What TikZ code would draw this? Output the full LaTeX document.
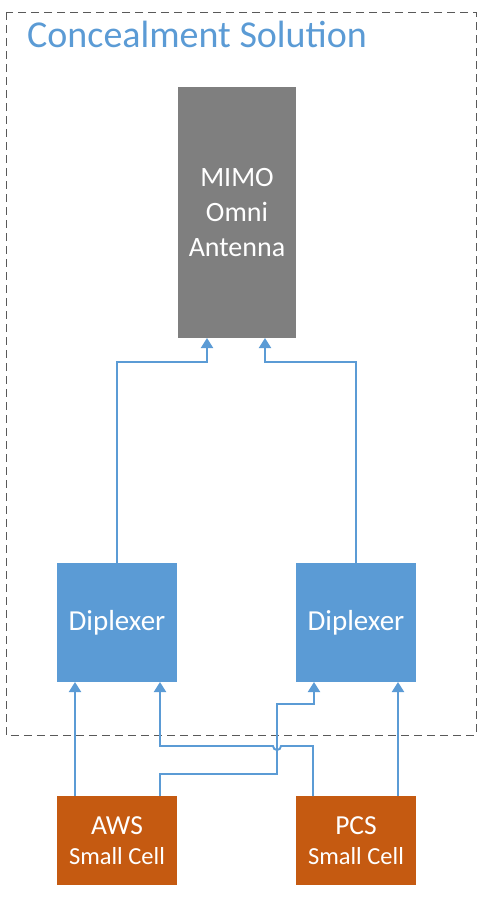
\documentclass[tikz,border=0pt]{standalone}
\usepackage{fontspec}
\setmainfont{Carlito}
\usetikzlibrary{arrows.meta,calc}
\definecolor{cblue}{HTML}{5B9BD5}
\definecolor{corange}{HTML}{C55A11}
\definecolor{cgray}{HTML}{7F7F7F}
\definecolor{cdash}{HTML}{595959}
\begin{document}
\begin{tikzpicture}[x=1pt,y=-1pt,
  blk/.style={inner sep=0pt, outer sep=0pt, text=white, align=center},
  antbox/.style={blk, fill=cgray, minimum width=118pt, minimum height=251pt, font=\fontsize{28}{35}\selectfont},
  dipbox/.style={blk, fill=cblue, minimum width=120pt, minimum height=119pt, font=\fontsize{29}{32}\selectfont},
  cellbox/.style={blk, fill=corange, minimum width=120pt, minimum height=89pt, font=\fontsize{24.5}{30}\selectfont},
  conn/.style={draw=cblue, line width=1.9pt, -{Triangle[width=12pt,length=10pt]}},
  frame/.style={draw=cdash, line width=0.9pt, dash pattern=on 8pt off 5pt}
]
\useasboundingbox (0,0) rectangle (483,897);
\draw[frame] (6,12) rectangle (476,735);
\node[anchor=base west, text=cblue, inner sep=0pt, font=\fontsize{38}{42}\selectfont] (title) at (27,47) {Concealment Solution};

\node[antbox] (ant) at (237,212.5) {MIMO\\Omni\\Antenna};
\node[dipbox] (dl) at (117,622.5) {Diplexer};
\node[dipbox] (dr) at (356,622.5) {Diplexer};
\node[cellbox] (aws) at (117,840.5) {{\fontsize{27.5}{30}\selectfont AWS}\\Small Cell};
\node[cellbox] (pcs) at (356,840.5) {{\fontsize{27.5}{30}\selectfont PCS}\\Small Cell};

% diplexers to antenna
\draw[conn] (dl.north) -- (dl.north |- 0,362) -| ([xshift=-30pt]ant.south);
\draw[conn] (dr.north) -- (dr.north |- 0,362) -| ([xshift=28pt]ant.south);

% cells to diplexers
\draw[conn] ([xshift=-42pt]aws.north) -- ([xshift=-42pt]dl.south);
\draw[conn] ([xshift=42pt]pcs.north) -- ([xshift=42pt]dr.south);
\draw[conn] ([xshift=43pt]aws.north) -- ++(0,-22) -| (277,704) -| ([xshift=-42pt]dr.south);
\coordinate (j1) at (281,746);
\draw[conn] ([xshift=-43pt]pcs.north) |- (j1) arc[start angle=0, end angle=-180, radius=4pt] -- (160,746) -- ([xshift=43pt]dl.south);
\end{tikzpicture}
\end{document}
